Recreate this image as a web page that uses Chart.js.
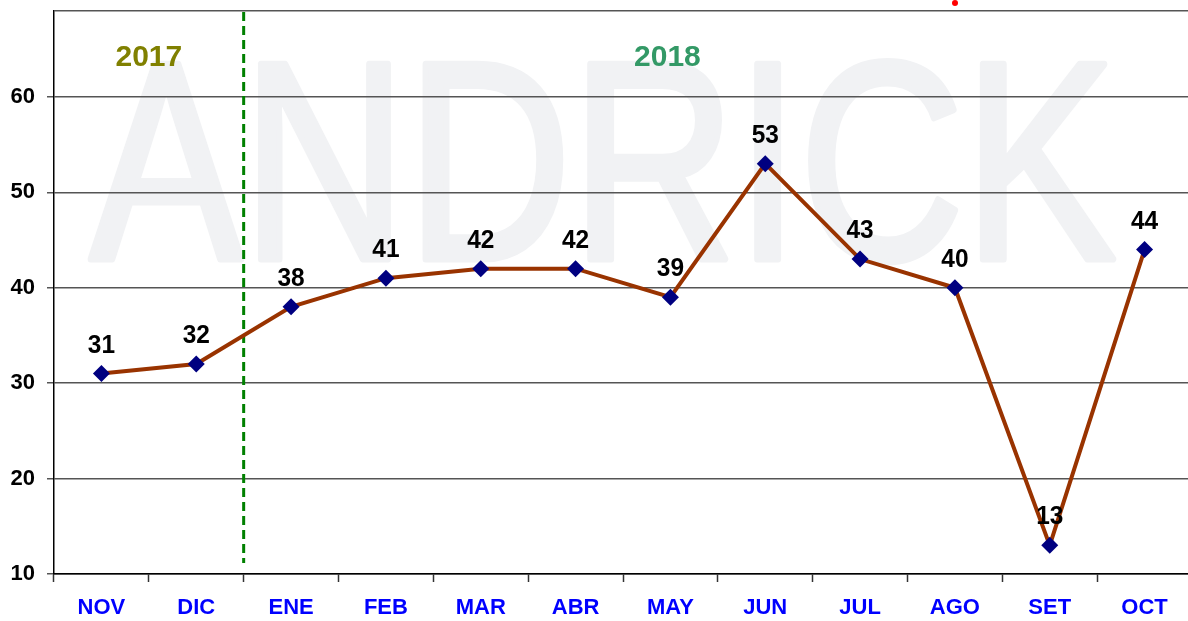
<!DOCTYPE html>
<html>
<head>
<meta charset="utf-8">
<script src="https://cdn.jsdelivr.net/npm/chart.js@4.4.1/dist/chart.umd.min.js"></script>
<style>
  html, body { margin: 0; padding: 0; background: #fff; overflow: hidden; }
  #myChart { display: block; }
</style>
</head>
<body>
<canvas id="myChart" width="1192" height="621"></canvas>
<script>
const months = ["NOV", "DIC", "ENE", "FEB", "MAR", "ABR", "MAY", "JUN", "JUL", "AGO", "SET", "OCT"];
const values = [31, 32, 38, 41, 42, 42, 39, 53, 43, 40, 13, 44];
const yTicks = [10, 20, 30, 40, 50, 60];
const yMax = 69;
const years = ["2017", "2018"];

const FONT = "'Liberation Sans', Arial, sans-serif";

// background + watermark, under the grid
const backdrop = {
  id: "backdrop",
  beforeDraw(chart) {
    const ctx = chart.ctx;
    ctx.save();
    ctx.fillStyle = "#fff";
    ctx.fillRect(0, 0, chart.width, chart.height);
    ctx.fillStyle = "#f1f2f4";
    ctx.strokeStyle = "#f1f2f4";
    ctx.lineWidth = 7;
    ctx.lineJoin = "round";
    ctx.font = "283px " + FONT;
    ctx.textAlign = "left";
    ctx.textBaseline = "alphabetic";
    ctx.fillText("ANDRICK", 90, 259, 1026);
    ctx.strokeText("ANDRICK", 90, 259, 1026);
    // little red dot at the top
    ctx.fillStyle = "#ff0000";
    ctx.beginPath();
    ctx.arc(955, 3, 3, 0, Math.PI * 2);
    ctx.fill();
    ctx.restore();
  }
};

// dashed year separator and year titles
const yearSplit = {
  id: "yearSplit",
  beforeDatasetsDraw(chart) {
    const ctx = chart.ctx;
    const x = chart.scales.x;
    const area = chart.chartArea;
    const sx = (x.getPixelForValue(1) + x.getPixelForValue(2)) / 2;
    ctx.save();
    ctx.strokeStyle = "#008000";
    ctx.lineWidth = 3;
    ctx.setLineDash([9, 5]);
    ctx.beginPath();
    ctx.moveTo(sx, area.top + 1);
    ctx.lineTo(sx, area.bottom - 11);
    ctx.stroke();
    ctx.setLineDash([]);
    ctx.font = "bold 30px " + FONT;
    ctx.textAlign = "center";
    ctx.textBaseline = "alphabetic";
    ctx.fillStyle = "#808000";
    ctx.fillText(years[0], (x.getPixelForValue(0) + x.getPixelForValue(1)) / 2, 66);
    ctx.fillStyle = "#339966";
    ctx.fillText(years[1], x.getPixelForValue(6) - 3, 66);
    ctx.restore();
  }
};

// value labels above the points
const valueLabels = {
  id: "valueLabels",
  afterDatasetsDraw(chart) {
    const ctx = chart.ctx;
    const meta = chart.getDatasetMeta(0);
    ctx.save();
    ctx.fillStyle = "#000";
    ctx.font = "bold 26px " + FONT;
    ctx.textAlign = "center";
    ctx.textBaseline = "alphabetic";
    meta.data.forEach((pt, i) => {
      ctx.save();
      ctx.translate(pt.x, pt.y - 21);
      ctx.scale(0.94, 1);
      ctx.fillText(String(values[i]), 0, 0);
      ctx.restore();
    });
    ctx.restore();
  }
};

const config = {
  type: "line",
  data: {
    labels: months,
    datasets: [{
      data: values,
      borderColor: "#993300",
      borderWidth: 4,
      tension: 0,
      pointStyle: "rectRot",
      pointRadius: 8.5,
      pointBackgroundColor: "#000080",
      pointBorderColor: "#000080",
      pointBorderWidth: 0,
      clip: false
    }]
  },
  options: {
    responsive: false,
    animation: false,
    events: [],
    layout: { autoPadding: false, padding: { top: 11, right: 0, left: 0, bottom: 0 } },
    plugins: {
      legend: { display: false },
      tooltip: { enabled: false }
    },
    scales: {
      x: {
        offset: true,
        grid: {
          offset: true,
          drawOnChartArea: false,
          drawTicks: true,
          tickLength: 8,
          tickColor: "#333",
          tickWidth: 1.5
        },
        border: { color: "#000", width: 1.5 },
        ticks: {
          color: "#0000ff",
          font: { family: FONT, size: 22, weight: "bold" },
          padding: 13,
          maxRotation: 0,
          autoSkip: false
        },
        afterFit(scale) {
          scale.height = 47;
          scale.paddingLeft = 0;
          scale.paddingRight = 0;
        }
      },
      y: {
        min: 10,
        max: yMax,
        afterBuildTicks(scale) {
          scale.ticks = yTicks.concat([yMax]).map(v => ({ value: v }));
        },
        grid: {
          color: "#555",
          lineWidth: 1.5,
          tickLength: 7,
          tickColor: ctx => (ctx.tick && ctx.tick.value === yMax ? "rgba(0,0,0,0)" : "#555")
        },
        border: { color: "#000", width: 1.5 },
        ticks: {
          color: "#000",
          font: { family: FONT, size: 22, weight: "bold" },
          padding: 12,
          callback: v => (yTicks.includes(v) ? String(v) : "")
        },
        afterFit(scale) {
          scale.width = 54;
          scale.paddingTop = 0;
          scale.paddingBottom = 0;
        }
      }
    }
  },
  plugins: [backdrop, yearSplit, valueLabels]
};

var myChart = new Chart(document.getElementById("myChart"), config);
</script>
</body>
</html>
